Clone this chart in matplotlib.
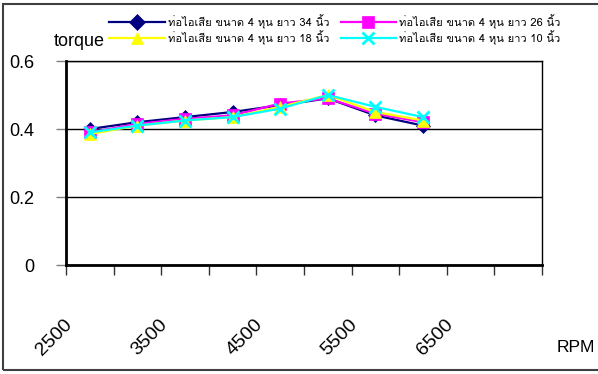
import matplotlib
matplotlib.use("Agg")
import matplotlib.pyplot as plt
from matplotlib import font_manager
from matplotlib.ft2font import FT2Font
from matplotlib.patches import Rectangle

# categories on the x axis (every other one labelled)
rpm = [2500, 3000, 3500, 4000, 4500, 5000, 5500, 6000, 6500, 7000]
rpm_labels = ["2500", "3500", "4500", "5500", "6500"]

# torque readings for each exhaust pipe length
pipe_34 = [0.40, 0.42, 0.435, 0.45, 0.47, 0.49, 0.44, 0.41]
pipe_26 = [0.39, 0.415, 0.43, 0.44, 0.475, 0.49, 0.445, 0.42]
pipe_18 = [0.385, 0.41, 0.425, 0.435, 0.465, 0.50, 0.45, 0.425]
pipe_10 = [0.39, 0.41, 0.425, 0.435, 0.46, 0.50, 0.465, 0.435]

names = [
    "ท่อไอเสีย ขนาด 4 หุน ยาว 34 นิ้ว",
    "ท่อไอเสีย ขนาด 4 หุน ยาว 26 นิ้ว",
    "ท่อไอเสีย ขนาด 4 หุน ยาว 18 นิ้ว",
    "ท่อไอเสีย ขนาด 4 หุน ยาว 10 นิ้ว",
]


def thai_family():
    # look for any installed font that has Thai glyphs
    for f in font_manager.fontManager.ttflist:
        try:
            cmap = FT2Font(f.fname).get_charmap()
        except Exception:
            continue
        if 0x0E17 in cmap and 0x0E2D in cmap:
            return f.name
    return None


base = "Liberation Sans"
th = thai_family()
fam = [th, base, "DejaVu Sans"] if th else [base, "DejaVu Sans"]
plt.rcParams["font.family"] = [base, "DejaVu Sans"]

fig = plt.figure(figsize=(5.98, 3.74), dpi=100)
ax = fig.add_axes([66 / 598, 1 - 265 / 374, (542 - 66) / 598, (265 - 61) / 374])

x = list(range(len(pipe_34)))
styles = [
    (pipe_34, "#000080", "D", 7),
    (pipe_26, "#FF00FF", "s", 8),
    (pipe_18, "#FFFF00", "^", 8.5),
    (pipe_10, "#00FFFF", "x", 8),
]
handles = []
for (vals, col, mk, ms), nm in zip(styles, names):
    h, = ax.plot(x, vals, color=col, lw=1.6, marker=mk, ms=ms,
                 mew=2 if mk == "x" else 0.5, mec=col, mfc=col, label=nm,
                 clip_on=False)
    handles.append(h)

ax.set_xlim(-0.5, len(rpm) - 0.5)
ax.set_ylim(0, 0.6)
ax.set_yticks([0, 0.2, 0.4, 0.6])
ax.set_yticklabels(["0", "0.2", "0.4", "0.6"])
ax.yaxis.grid(True, color="black", lw=1)
ax.set_axisbelow(True)
ax.tick_params(axis="y", length=7, width=1, color="#808080", pad=16,
               labelsize=13, labelcolor="black")
ax.set_xticks([i - 0.5 for i in range(len(rpm) + 1)])
ax.set_xticklabels([])
ax.tick_params(axis="x", length=7.5, width=1, color="#333333")

for s in ["left", "bottom"]:
    ax.spines[s].set_linewidth(2)
for s in ["top", "right"]:
    ax.spines[s].set_linewidth(1)

for i, lab in enumerate(rpm_labels):
    ax.text(2 * i - 0.55, -0.25, lab, transform=ax.get_xaxis_transform(),
            rotation=45, rotation_mode="anchor", ha="right", va="top",
            fontsize=14)

fig.text(557 / 598, 1 - 348 / 374, "RPM", fontsize=12.5, va="center",
         ha="left")
fig.text(105 / 598, 1 - 41 / 374, "torque", fontsize=13, va="center",
         ha="right")

order = [0, 2, 1, 3]
leg = fig.legend([handles[i] for i in order], [names[i] for i in order],
                 ncol=2, loc="upper left",
                 bbox_to_anchor=(109 / 598, 1 - 14 / 374),
                 frameon=False, borderpad=0, borderaxespad=0,
                 handlelength=5.0, handletextpad=0.3, columnspacing=1.0,
                 labelspacing=0.15, prop={"family": fam, "size": 8})
for h in leg.legend_handles:
    h.set_markersize(8)

fig.patches.append(Rectangle((3 / 598, 4 / 374), 1.2, 1 - 8 / 374,
                             transform=fig.transFigure, fill=False,
                             edgecolor="#404040", lw=1.5))

fig.savefig("out.png", dpi=100)
